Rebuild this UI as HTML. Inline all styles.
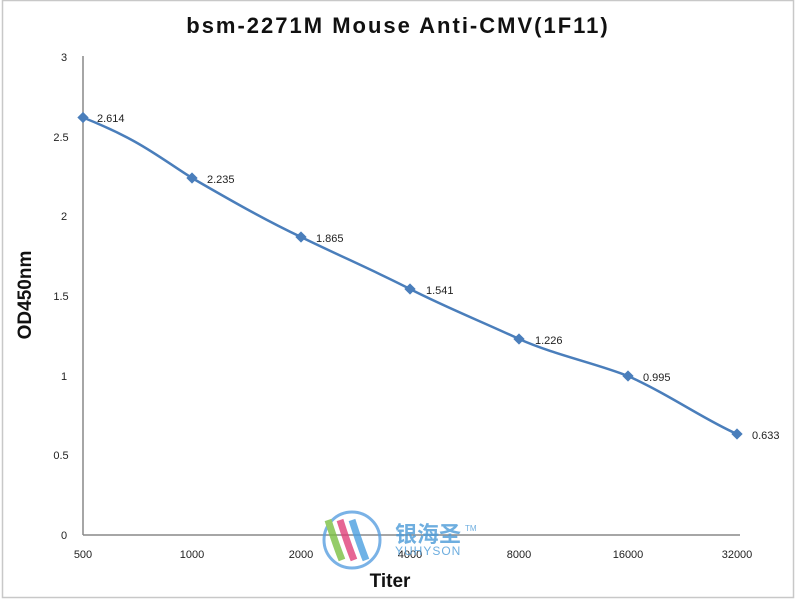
<!DOCTYPE html>
<html><head><style>body{margin:0;background:#fff}svg{display:block}</style></head><body>
<svg width="796" height="600" xmlns="http://www.w3.org/2000/svg" font-family="Liberation Sans, DejaVu Sans, sans-serif">
<rect x="0" y="0" width="796" height="600" fill="#fff"/>
<rect x="2.5" y="0.5" width="791" height="597" fill="none" stroke="#c8c8c8" stroke-width="1.5"/>
<text x="398" y="33" text-anchor="middle" font-size="22" font-weight="bold" letter-spacing="2" fill="#111">bsm-2271M Mouse Anti-CMV(1F11)</text>
<line x1="83" y1="56" x2="83" y2="535" stroke="#888" stroke-width="1.5"/>
<line x1="83" y1="535" x2="740" y2="535" stroke="#888" stroke-width="1.5"/>
<g font-size="11" fill="#222" text-anchor="middle">
<text x="64" y="61">3</text><text x="61" y="141">2.5</text><text x="64" y="220">2</text><text x="61" y="300">1.5</text><text x="64" y="380">1</text><text x="61" y="459">0.5</text><text x="64" y="539">0</text>
<text x="83" y="558">500</text><text x="192" y="558">1000</text><text x="301" y="558">2000</text><text x="410" y="558">4000</text><text x="519" y="558">8000</text><text x="628" y="558">16000</text><text x="737" y="558">32000</text>
</g>
<text x="390" y="587" text-anchor="middle" font-size="19" font-weight="bold" fill="#111">Titer</text>
<text transform="translate(31,295) rotate(-90)" text-anchor="middle" font-size="19" font-weight="bold" fill="#111">OD450nm</text>
<path d="M83,117.5 C140,140 160,158 192,178 C230,200 265,220 301,237 C340,256 375,271 410,289 C445,307 485,323 519,339 C555,355 595,363 628,376 C670,395 705,420 737,434" fill="none" stroke="#4a7ebb" stroke-width="2.5"/>
<g fill="#4a7ebb">
<rect x="79" y="113.5" width="8" height="8" transform="rotate(45 83 117.5)"/>
<rect x="188" y="174" width="8" height="8" transform="rotate(45 192 178)"/>
<rect x="297" y="233" width="8" height="8" transform="rotate(45 301 237)"/>
<rect x="406" y="285" width="8" height="8" transform="rotate(45 410 289)"/>
<rect x="515" y="335" width="8" height="8" transform="rotate(45 519 339)"/>
<rect x="624" y="372" width="8" height="8" transform="rotate(45 628 376)"/>
<rect x="733" y="430" width="8" height="8" transform="rotate(45 737 434)"/>
</g>
<g font-size="11" fill="#222">
<text x="97" y="122">2.614</text><text x="207" y="183">2.235</text><text x="316" y="242">1.865</text><text x="426" y="294">1.541</text><text x="535" y="344">1.226</text><text x="643" y="381">0.995</text><text x="752" y="439">0.633</text>
</g>
<g opacity="0.8">
<circle cx="352" cy="540" r="28" fill="none" stroke="#5aa0e0" stroke-width="3"/>
<path d="M328,520 q8,25 14,40" stroke="#7bc043" stroke-width="7" fill="none"/>
<path d="M340,520 q8,25 14,40" stroke="#e0407a" stroke-width="7" fill="none"/>
<path d="M352,520 q8,25 14,40" stroke="#4aa0e0" stroke-width="7" fill="none"/>
<text x="395" y="542" font-size="22" font-weight="bold" fill="#4a9ad8" font-family="Noto Sans CJK SC, sans-serif">银海圣</text>
<text x="465" y="531" font-size="8" fill="#4a9ad8">TM</text>
<text x="395" y="555" font-size="12" fill="#4a9ad8" letter-spacing="1">YUHYSON</text>
</g>
</svg>
</body></html>
